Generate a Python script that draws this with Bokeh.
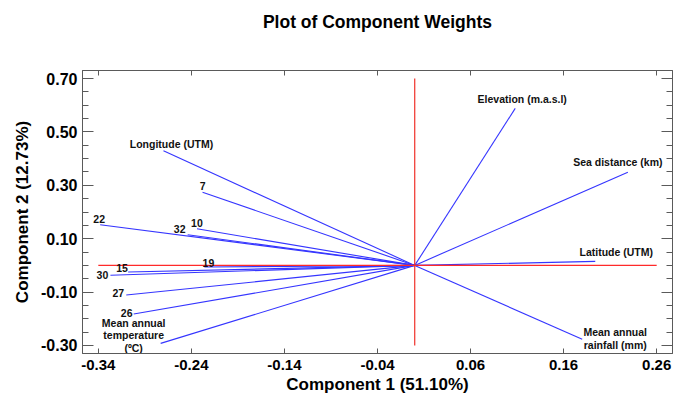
from bokeh.plotting import figure
from bokeh.models import Range1d, FixedTicker, LinearAxis, PrintfTickFormatter, ColumnDataSource
from bokeh.core.properties import value
from bokeh.embed import file_html
from bokeh.resources import INLINE

# ---- data ----
variables = ["Longitude (UTM)", "7", "22", "32", "10", "19", "15", "30", "27", "26",
             "Mean annual\ntemperature\n(ºC)", "Elevation (m.a.s.l)", "Sea distance (km)",
             "Latitude (UTM)", "Mean annual\nrainfall (mm)"]
comp1 = [-0.270, -0.228, -0.338, -0.244, -0.234, -0.226, -0.308, -0.327, -0.310, -0.302,
         -0.273, 0.108, 0.229, 0.194, 0.180]
comp2 = [0.429, 0.274, 0.152, 0.115, 0.137, -0.006, -0.025, -0.037, -0.111, -0.182,
         -0.292, 0.588, 0.349, 0.015, -0.277]
x_ticks = [-0.34, -0.24, -0.14, -0.04, 0.06, 0.16, 0.26]
y_ticks = [0.70, 0.50, 0.30, 0.10, -0.10, -0.30]
y_minor = [round(-0.30 + 0.05 * i, 2) for i in range(21)]
title_text = "Plot of Component Weights"
x_title = "Component 1 (51.10%)"
y_title = "Component 2 (12.73%)"

# label placement (pixel offsets from vector tips)
lab_dx = [8, 0, -1, -8, 0, 4, -6, -8, -8, -7, -27, 7, -10, 21, 33]
lab_dy = [-7, -6, -6, -6, -6, -4, -4, 0, -2, -1, -8, -9, -10, -9, -1]

FONT = "Liberation Sans"
AXC = "#5a5a5a"

p = figure(width=673, height=399, output_backend="svg", toolbar_location=None,
           x_range=Range1d(-0.357, 0.277), y_range=Range1d(-0.33, 0.73),
           min_border_left=82, min_border_right=1, min_border_top=70, min_border_bottom=46,
           x_axis_location=None, y_axis_location=None, title=None)
p.grid.visible = False
p.outline_line_color = AXC
p.background_fill_color = "white"
p.border_fill_color = "white"


def make_axis(ticks, minor, labels, size):
    ax = LinearAxis(ticker=FixedTicker(ticks=ticks, minor_ticks=minor))
    ax.formatter = PrintfTickFormatter(format="%.2f")
    ax.axis_line_color = AXC
    ax.major_tick_line_color = AXC
    ax.minor_tick_line_color = AXC
    ax.major_tick_out = 0
    ax.minor_tick_out = 0
    ax.major_label_text_font = FONT
    ax.major_label_text_font_style = "bold"
    ax.major_label_text_color = "black"
    ax.major_label_text_font_size = size
    if not labels:
        ax.major_label_overrides = {t: "" for t in ticks}
        ax.major_label_standoff = 0
    return ax


xb = make_axis(x_ticks, [], True, "15px")
xb.major_tick_in = 5
xb.major_label_standoff = 6
xb.axis_label = x_title
xb.axis_label_text_font = FONT
xb.axis_label_text_font_size = "17px"
xb.axis_label_text_font_style = "bold"
xb.axis_label_text_color = "black"
xb.axis_label_standoff = 2
p.add_layout(xb, "below")

# top axis: ticks only; its (empty-label) band carries the chart title
xt = make_axis(x_ticks, [], False, "15px")
xt.major_tick_in = 5
xt.axis_label = title_text
xt.axis_label_text_font = FONT
xt.axis_label_text_font_size = "17.5px"
xt.axis_label_text_font_style = "bold"
xt.axis_label_text_color = "black"
xt.axis_label_standoff = 39
p.add_layout(xt, "above")

yl = make_axis(y_ticks, y_minor, True, "16px")
yl.major_tick_in = 11
yl.minor_tick_in = 6
yl.major_label_standoff = 5
yl.axis_label = y_title
yl.axis_label_text_font = FONT
yl.axis_label_text_font_size = "17px"
yl.axis_label_text_font_style = "bold"
yl.axis_label_text_color = "black"
yl.axis_label_standoff = 6
p.add_layout(yl, "left")

yr = make_axis(y_ticks, y_minor, False, "16px")
yr.major_tick_in = 11
yr.minor_tick_in = 6
p.add_layout(yr, "right")

src = ColumnDataSource(dict(name=variables, x=comp1, y=comp2, dx=lab_dx, dy=lab_dy))
p.segment(x0=0, y0=0, x1="x", y1="y", source=src, line_color="#3535ff", line_width=1.1)

# reference lines through origin (drawn over the vectors)
p.segment(x0=[x_ticks[0]], y0=[0], x1=[x_ticks[-1]], y1=[0], line_color="#ff2a2a", line_width=1.1)
p.segment(x0=[0], y0=[y_ticks[-1]], x1=[0], y1=[y_ticks[0]], line_color="#f0302a", line_width=1.2)

p.text(x="x", y="y", text="name", x_offset="dx", y_offset="dy", source=src,
       text_font=value(FONT), text_font_style="bold", text_font_size="10.5px",
       text_color="#111111", text_align="center", text_baseline="middle", text_line_height=1.05)

open("out.html", "w").write(file_html(p, INLINE))
